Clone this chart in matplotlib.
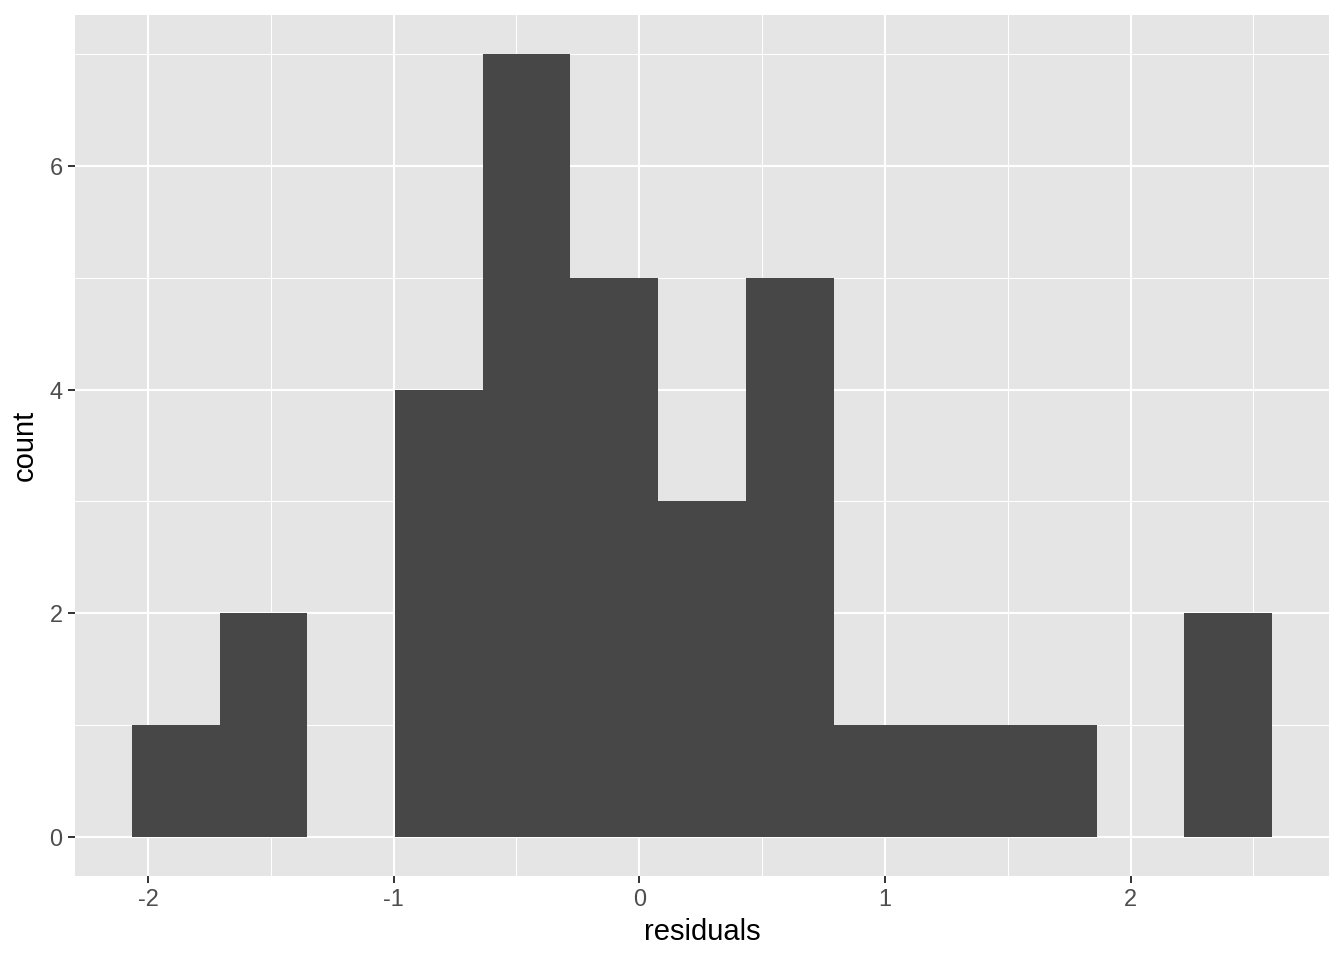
import numpy as np
import matplotlib.pyplot as plt

# histogram bins of residuals (13 bins) and their counts
bin_edges = [-2.065, -1.708, -1.351, -0.994, -0.637, -0.280, 0.077,
             0.434, 0.791, 1.148, 1.505, 1.862, 2.219, 2.576]
counts = [1, 2, 0, 4, 7, 5, 3, 5, 1, 1, 1, 0, 2]

x_ticks = [-2, -1, 0, 1, 2]
y_ticks = [0, 2, 4, 6]

plt.rcParams['font.family'] = ['Liberation Sans', 'DejaVu Sans']

fig = plt.figure(figsize=(13.44, 9.6), dpi=100)
ax = fig.add_axes([75 / 1344, 1 - 876 / 960, (1329 - 75) / 1344, (876 - 15) / 960])

ax.set_facecolor('#E5E5E5')
for s in ax.spines.values():
    s.set_visible(False)

ax.hist(bin_edges[:-1], bins=bin_edges, weights=counts, color='#474747', zorder=3)

# ggplot-like expanded limits
xr = bin_edges[-1] - bin_edges[0]
ax.set_xlim(bin_edges[0] - 0.05 * xr, bin_edges[-1] + 0.05 * xr)
ymax = max(counts)
ax.set_ylim(-0.05 * ymax, ymax * 1.05)

ax.set_xticks(x_ticks)
ax.set_xticklabels([str(t) for t in x_ticks])
ax.set_yticks(y_ticks)
ax.set_xticks([-1.5, -0.5, 0.5, 1.5, 2.5], minor=True)
ax.set_yticks([1, 3, 5, 7], minor=True)

ax.grid(which='major', color='white', linewidth=1.5, zorder=1)
ax.grid(which='minor', color='white', linewidth=0.75, zorder=1)
ax.set_axisbelow(True)

ax.tick_params(which='major', length=5, width=1.4, color='#333333',
               labelsize=16.9, labelcolor='#4D4D4D', pad=4)
ax.tick_params(which='minor', length=0)

ax.set_xlabel('residuals', fontsize=21, color='black', labelpad=5)
ax.set_ylabel('count', fontsize=21, color='black', labelpad=8)

fig.savefig('out.png', dpi=100)
